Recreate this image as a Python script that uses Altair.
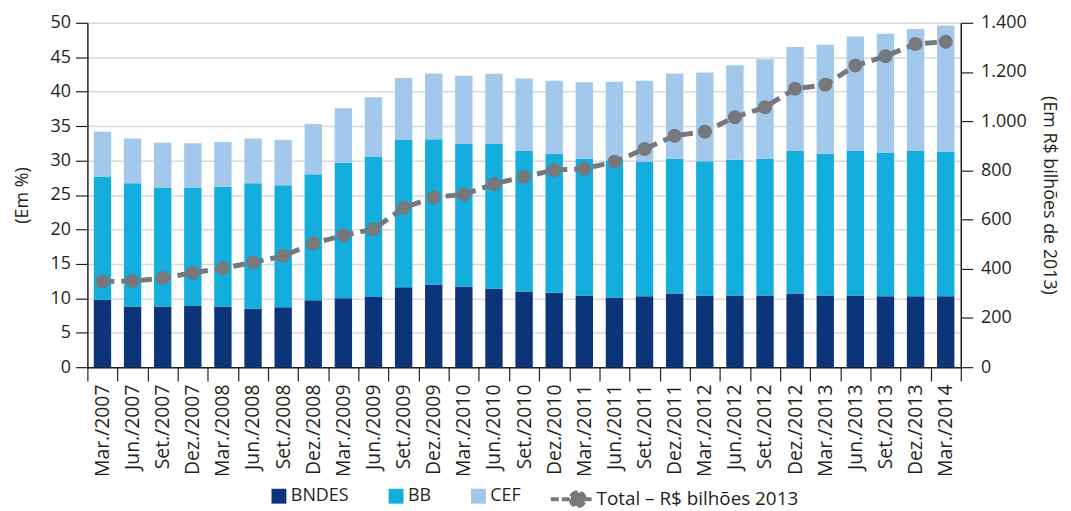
import altair as alt
import pandas as pd

periods = ["Mar./2007", "Jun./2007", "Set./2007", "Dez./2007",
           "Mar./2008", "Jun./2008", "Set./2008", "Dez./2008",
           "Mar./2009", "Jun./2009", "Set./2009", "Dez./2009",
           "Mar./2010", "Jun./2010", "Set./2010", "Dez./2010",
           "Mar./2011", "Jun./2011", "Set./2011", "Dez./2011",
           "Mar./2012", "Jun./2012", "Set./2012", "Dez./2012",
           "Mar./2013", "Jun./2013", "Set./2013", "Dez./2013",
           "Mar./2014"]

bndes = [9.8, 8.8, 8.8, 8.9, 8.8, 8.5, 8.7, 9.7, 10.0, 10.2, 11.6, 12.0,
         11.7, 11.4, 11.0, 10.8, 10.4, 10.1, 10.3, 10.7, 10.4, 10.4, 10.4,
         10.7, 10.4, 10.4, 10.3, 10.3, 10.3]
bb = [17.9, 17.9, 17.3, 17.2, 17.4, 18.2, 17.7, 18.3, 19.7, 20.3, 21.4, 21.1,
      20.7, 21.0, 20.4, 20.2, 19.9, 19.9, 19.5, 19.6, 19.5, 19.7, 19.85,
      20.7, 20.6, 21.0, 20.8, 21.1, 21.0]
cef = [6.5, 6.5, 6.5, 6.4, 6.5, 6.5, 6.6, 7.3, 7.9, 8.7, 9.0, 9.55,
       9.9, 10.2, 10.5, 10.6, 11.05, 11.45, 11.8, 12.35, 12.9, 13.75, 14.45,
       15.1, 15.8, 16.6, 17.3, 17.7, 18.3]
total = [348, 350, 362, 384, 402, 426, 452, 503, 536, 561, 648, 691,
         702, 745, 774, 801, 807, 835, 887, 941, 957, 1016, 1057,
         1132, 1148, 1226, 1264, 1314, 1323]

series_names = ["BNDES", "BB", "CEF"]
series_colors = ["#0b3479", "#13aede", "#a2c9ec"]
total_name = "Total – R$ bilhões 2013"
line_color = "#76787b"

left_ticks = [0, 5, 10, 15, 20, 25, 30, 35, 40, 45, 50]
right_ticks = [0, 200, 400, 600, 800, 1000, 1200, 1400]

rows = []
for i, p in enumerate(periods):
    for k, (s, vals) in enumerate(zip(series_names, [bndes, bb, cef])):
        rows.append({"periodo": p, "serie": s, "valor": vals[i], "ordem": k})
bars_df = pd.DataFrame(rows)
line_df = pd.DataFrame({"periodo": periods, "total": total,
                        "serie": [total_name] * len(periods)})

FONT = "Open Sans"
TXT = "#231f20"

x_enc = alt.X(
    "periodo:N", sort=periods,
    scale=alt.Scale(paddingInner=0, paddingOuter=0),
    axis=alt.Axis(title=None, labelAngle=-90, tickBand="extent", tickSize=14,
                  labelPadding=3, labelFontSize=19.5, grid=False,
                  domainColor="#231f20", tickColor="#231f20",
                  domainWidth=1.5, tickWidth=1.2),
)

bars = alt.Chart(bars_df).mark_bar(size=17.5).encode(
    x=x_enc,
    y=alt.Y("valor:Q", stack="zero",
            scale=alt.Scale(domain=[0, 50], nice=False),
            axis=alt.Axis(title="(Em %)", values=left_ticks, tickSize=12,
                          labelPadding=5, labelFontSize=18, titleFontSize=18,
                          titleFontWeight="normal", titlePadding=19,
                          grid=True, gridColor="#d9d9d9", gridWidth=1.5,
                          domainColor="#231f20", tickColor="#231f20",
                          domainWidth=1.5, tickWidth=1.2)),
    color=alt.Color("serie:N",
                    scale=alt.Scale(domain=series_names, range=series_colors),
                    legend=alt.Legend(title=None, orient="none",
                                      direction="horizontal",
                                      legendX=184, legendY=468,
                                      symbolType="square", symbolSize=225,
                                      symbolStrokeWidth=0, labelFontSize=18,
                                      labelOffset=3, columnPadding=38,
                                      labelLimit=300, padding=0)),
    order=alt.Order("ordem:Q"),
)

sym_path = ("M-1,0L1,0M-0.047,0A0.333,0.333,0,1,0,0.619,0"
            "A0.333,0.333,0,1,0,-0.047,0Z")

line = alt.Chart(line_df).mark_line(strokeDash=[12, 7], strokeWidth=5,
                                    strokeCap="butt").encode(
    x=x_enc,
    y=alt.Y("total:Q", scale=alt.Scale(domain=[0, 1400], nice=False),
            axis=alt.Axis(title="(Em R$ bilhões de 2013)", orient="right",
                          values=right_ticks, tickSize=12, labelPadding=8,
                          labelFontSize=18, titleFontSize=18,
                          titleFontWeight="normal", titlePadding=13,
                          grid=False,
                          labelExpr="replace(format(datum.value, ','), ',', '.')",
                          domainColor="#231f20", tickColor="#231f20",
                          domainWidth=1.5, tickWidth=1.2)),
    stroke=alt.Stroke("serie:N",
                      scale=alt.Scale(domain=[total_name], range=[line_color]),
                      legend=alt.Legend(title=None, orient="none",
                                        legendX=465, legendY=457,
                                        symbolType=sym_path, symbolSize=1764,
                                        symbolFillColor=line_color,
                                        symbolStrokeColor=line_color,
                                        symbolStrokeWidth=4,
                                        symbolDash=[8, 3],
                                        labelFontSize=19, labelOffset=2,
                                        labelLimit=400, padding=0)),
)

points = alt.Chart(line_df).mark_circle(size=200, opacity=1,
                                        color=line_color).encode(
    x=x_enc,
    y=alt.Y("total:Q", scale=alt.Scale(domain=[0, 1400], nice=False),
            axis=None),
)

chart = alt.layer(bars, line, points).resolve_scale(
    y="independent", color="independent", stroke="independent"
).properties(
    width=880, height=347,
    autosize=alt.AutoSizeParams(type="none"),
    padding={"left": 80, "top": 13, "right": 103, "bottom": 143},
).configure_view(stroke=None).configure_axis(
    labelFont=FONT, titleFont=FONT, labelColor=TXT, titleColor=TXT,
).configure_legend(labelFont=FONT, labelColor=TXT)

chart.save("out.html", embed_options={"renderer": "svg", "actions": False})
